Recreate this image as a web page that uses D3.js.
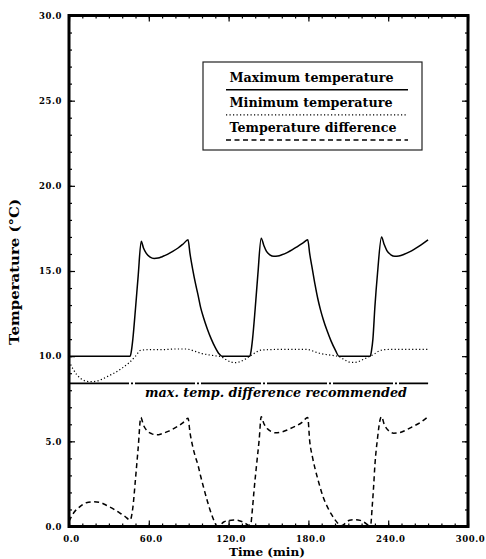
<!DOCTYPE html>
<html>
<head>
<meta charset="utf-8">
<script src="https://cdn.jsdelivr.net/npm/d3@7"></script>
<style>
  body { margin: 0; background: #fff; }
  svg { display: block; }
  .tick-label { font-family: "DejaVu Serif", serif; font-weight: bold; font-size: 8.5px; letter-spacing: 0.6px; fill: #000; }
  .title { font-family: "DejaVu Serif", serif; font-weight: bold; fill: #000; }
</style>
</head>
<body>
<svg id="chart" width="486" height="559"></svg>
<script>
// ---- data ----------------------------------------------------------------
// Maximum temperature (°C) over time (min)
const maxTime = [0, 45, 46, 47, 48, 50, 52, 54.3, 56, 58, 61, 64, 67, 70, 74, 78, 82, 86, 89.5,
  91, 93, 95, 97, 99, 101, 104, 107, 110, 113, 115,
  136, 137, 138, 140, 142, 144.5, 146.5, 148.5, 151, 154, 157, 160, 164, 168, 172, 176, 179.5,
  181, 183, 185, 187, 189, 191, 194, 197, 200, 203,
  226.5, 227.5, 228.5, 230, 232, 235, 237, 239, 242, 245, 248, 252, 256, 260, 265, 270];
const maxTemp = [10.0, 10.0, 10.0, 10.35, 11.0, 12.8, 14.7, 16.75, 16.35, 16.05, 15.82, 15.74, 15.76, 15.84, 15.98, 16.15, 16.35, 16.6, 16.83,
  16.0, 15.1, 14.3, 13.6, 12.85, 12.3, 11.6, 11.0, 10.5, 10.12, 10.0,
  10.0, 10.35, 11.0, 12.8, 14.8, 16.93, 16.5, 16.15, 15.95, 15.86, 15.88, 15.95, 16.08, 16.25, 16.45, 16.65, 16.83,
  16.0, 15.1, 14.2, 13.4, 12.75, 12.2, 11.5, 10.9, 10.4, 10.0,
  10.0, 10.35, 11.0, 12.9, 14.9, 16.99, 16.55, 16.2, 15.95, 15.86, 15.88, 15.98, 16.12, 16.3, 16.55, 16.83];

// Minimum temperature (°C)
const minTime = [0, 3, 6, 9, 12, 16, 20, 25, 30, 35, 40, 45, 50, 54, 60, 70, 80, 88, 95, 100, 105, 110, 114,
  118, 122, 125, 128, 132, 136, 140, 144, 150, 160, 170, 179, 185, 190, 195, 200, 203,
  207, 211, 214, 217, 221, 225, 229, 233, 237, 245, 255, 270];
const minTemp = [9.7, 9.25, 8.9, 8.68, 8.55, 8.5, 8.52, 8.65, 8.85, 9.05, 9.3, 9.6, 10.0, 10.35, 10.38, 10.38, 10.42, 10.42, 10.28, 10.15, 10.08, 10.02, 9.98,
  9.8, 9.65, 9.62, 9.66, 9.8, 10.0, 10.2, 10.35, 10.38, 10.4, 10.4, 10.4, 10.25, 10.14, 10.08, 10.02, 9.98,
  9.8, 9.65, 9.63, 9.66, 9.8, 9.95, 10.1, 10.3, 10.38, 10.4, 10.4, 10.4];

// Temperature difference (°C)
const diffTime = [0, 4, 8, 13, 18, 23, 28, 33, 38, 42, 46, 47, 48, 50, 52, 54, 56, 59, 62, 66, 70, 75, 80, 85, 89.5,
  91, 93, 95, 97, 99, 101, 104, 107, 109, 111, 113, 116, 120, 124, 128, 132, 135,
  136.5, 138, 139, 141, 143, 144.5, 146.5, 149, 152, 155, 160, 165, 170, 175, 179.5,
  181, 183, 185, 187, 189, 191, 194, 197, 200, 203, 205, 208, 211, 215, 219, 222, 225,
  226.8, 228, 229, 230, 232, 234, 235, 237, 240, 244, 248, 253, 258, 264, 270];
const diffTemp = [0.3, 0.85, 1.15, 1.4, 1.45, 1.42, 1.25, 1.05, 0.8, 0.6, 0.38, 0.6, 1.1, 2.8, 4.6, 6.4, 5.95, 5.6, 5.45, 5.38, 5.45, 5.6, 5.8, 6.05, 6.35,
  5.5, 4.7, 4.1, 3.6, 2.95, 2.35, 1.5, 0.75, 0.35, 0.05, 0.05, 0.25, 0.35, 0.38, 0.34, 0.22, 0.08,
  0.1, 1.1, 2.0, 3.6, 5.1, 6.45, 6.05, 5.75, 5.58, 5.5, 5.55, 5.7, 5.88, 6.1, 6.4,
  5.0, 4.1, 3.4, 2.8, 2.25, 1.75, 1.2, 0.75, 0.4, 0.12, 0.05, 0.2, 0.37, 0.4, 0.36, 0.25, 0.1,
  0.1, 1.2, 2.3, 3.6, 5.2, 6.3, 6.45, 6.0, 5.65, 5.48, 5.5, 5.65, 5.85, 6.1, 6.45];

// Recommended limit for the temperature difference
const limitTemp = 8.4;
const limitSpan = [0, 270];
const limitLabel = "max. temp. difference recommended";

// Axes
const xTicks = [0, 60, 120, 180, 240, 300];
const xTickLabels = ["0.0", "60.0", "120.0", "180.0", "240.0", "300.0"];
const yTicks = [0, 5, 10, 15, 20, 25, 30];
const yTickLabels = ["0.0", "5.0", "10.0", "15.0", "20.0", "25.0", "30.0"];
const xTitle = "Time (min)";
const yTitle = "Temperature (°C)";

const legendLabels = ["Maximum temperature", "Minimum temperature", "Temperature difference"];

// ---- drawing -------------------------------------------------------------
const svg = d3.select("#chart");
const L = 69, R = 468, T = 15.5, B = 526.5;

const x = d3.scaleLinear().domain([0, 300]).range([L, R]);
const y = d3.scaleLinear().domain([0, 30]).range([B, T]);

const xMinor = d3.range(0, 301, 10);
const yMinor = d3.range(0, 31, 1);

// tick marks on all four sides, pointing inward
function ticks(axisFn, scale, values, size, transform) {
  const g = svg.append("g").attr("transform", transform)
    .call(axisFn(scale).tickValues(values).tickSize(size).tickFormat(""));
  g.select(".domain").remove();
  g.selectAll(".tick line").attr("stroke", "#000").attr("stroke-width", 1.2);
  return g;
}
ticks(d3.axisBottom, x, xMinor, -3, `translate(0,${B})`);
ticks(d3.axisBottom, x, xTicks, -6, `translate(0,${B})`);
ticks(d3.axisTop, x, xMinor, -3, `translate(0,${T})`);
ticks(d3.axisTop, x, xTicks, -6, `translate(0,${T})`);
ticks(d3.axisLeft, y, yMinor, -3, `translate(${L},0)`);
ticks(d3.axisLeft, y, yTicks, -6, `translate(${L},0)`);
ticks(d3.axisRight, y, yMinor, -3, `translate(${R},0)`);
ticks(d3.axisRight, y, yTicks, -6, `translate(${R},0)`);

// tick labels
const xLab = svg.append("g").attr("transform", `translate(0,${B})`)
  .call(d3.axisBottom(x).tickValues(xTicks).tickSize(0).tickPadding(9.5)
    .tickFormat((d, i) => xTickLabels[i]));
xLab.select(".domain").remove();
xLab.selectAll("text").attr("class", "tick-label").attr("dx", 2);

const yLab = svg.append("g").attr("transform", `translate(${L},0)`)
  .call(d3.axisLeft(y).tickValues(yTicks).tickSize(0).tickPadding(7)
    .tickFormat((d, i) => yTickLabels[i]));
yLab.select(".domain").remove();
yLab.selectAll("text").attr("class", "tick-label");

// frame
svg.append("path")
  .attr("d", `M${L},${T}H${R}V${B}H${L}Z`)
  .attr("fill", "none").attr("stroke", "#000").attr("stroke-width", 3);

// series
const line = d3.line().x(d => x(d[0])).y(d => y(d[1])).curve(d3.curveMonotoneX);
const zip = (ts, vs) => ts.map((t, i) => [t, vs[i]]);

const styles = {
  max:  { width: 1.5, dash: null },
  min:  { width: 1.2, dash: "1.2,2.3" },
  diff: { width: 1.5, dash: "5,3.5" }
};

function drawSeries(data, st) {
  svg.append("path").datum(data).attr("d", line)
    .attr("fill", "none").attr("stroke", "#000")
    .attr("stroke-width", st.width)
    .attr("stroke-dasharray", st.dash);
}
drawSeries(zip(maxTime, maxTemp), styles.max);
drawSeries(zip(minTime, minTemp), styles.min);
drawSeries(zip(diffTime, diffTemp), styles.diff);

// recommended limit
svg.append("line")
  .attr("x1", x(limitSpan[0])).attr("x2", x(limitSpan[1]))
  .attr("y1", y(limitTemp)).attr("y2", y(limitTemp))
  .attr("stroke", "#000").attr("stroke-width", 1.8)
  .attr("stroke-dasharray", "60,2,2,2");
svg.append("text").attr("class", "title")
  .attr("x", 145).attr("y", y(limitTemp) + 14)
  .attr("font-size", 13).attr("font-style", "italic")
  .attr("textLength", 262).attr("lengthAdjust", "spacingAndGlyphs")
  .text(limitLabel);

// legend
const lg = svg.append("g");
lg.append("rect").attr("x", 203).attr("y", 62).attr("width", 219).attr("height", 88)
  .attr("fill", "#fff").attr("stroke", "#222").attr("stroke-width", 1.2);
const legendStyles = [styles.max, styles.min, styles.diff];
const legendLen = [164, 163, 167];
legendLabels.forEach((lab, i) => {
  const base = 81.7 + i * 25.2;
  lg.append("text").attr("class", "title")
    .attr("x", 229.5).attr("y", base).attr("font-size", 12.5)
    .attr("textLength", legendLen[i]).attr("lengthAdjust", "spacingAndGlyphs")
    .text(lab);
  lg.append("line")
    .attr("x1", 226).attr("x2", 408)
    .attr("y1", base + 8).attr("y2", base + 8)
    .attr("stroke", "#000").attr("stroke-width", legendStyles[i].width)
    .attr("stroke-dasharray", legendStyles[i].dash);
});

// axis titles
svg.append("text").attr("class", "title")
  .attr("x", 267).attr("y", 556).attr("text-anchor", "middle")
  .attr("font-size", 11).attr("textLength", 76).attr("lengthAdjust", "spacingAndGlyphs")
  .text(xTitle);
svg.append("text").attr("class", "title")
  .attr("transform", `translate(19,272) rotate(-90)`)
  .attr("text-anchor", "middle")
  .attr("font-size", 12.5).attr("textLength", 146).attr("lengthAdjust", "spacingAndGlyphs")
  .text(yTitle);
</script>
</body>
</html>
